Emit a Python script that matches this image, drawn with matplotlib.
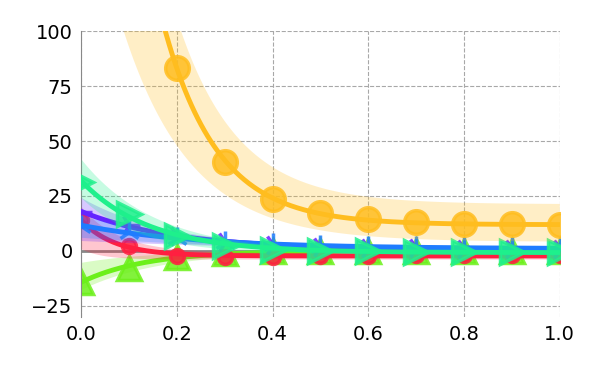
import numpy as np
import matplotlib
matplotlib.use('Agg')
import matplotlib.pyplot as plt

# x positions of the measured points
x_pts = [0.0, 0.1, 0.2, 0.3, 0.4, 0.5, 0.6, 0.7, 0.8, 0.9, 1.0]

# series values (mean, upper, lower)
orange_mid = [430, 185, 83, 40.5, 23.5, 17.2, 14.5, 13.2, 12.3, 12.1, 12.0]
orange_hi = [445, 211, 106, 58, 38, 29, 25, 23, 22, 21.5, 21.5]
orange_lo = [184, 93, 48, 26, 15, 9.4, 6.7, 5.3, 4.7, 4.3, 4.2]

red_mid = [14, 2.3, -2.3, -2.8, -2.6, -2.4, -2.2, -2.0, -1.9, -1.8, -1.7]
red_hi = [20, 6, 0, -1, -1, -1, -0.8, -0.6, -0.5, -0.4, -0.3]
red_lo = [1, -3, -4.5, -4.5, -4, -3.8, -3.6, -3.4, -3.3, -3.2, -3.1]

blue_mid = [11.5, 8.5, 6, 4, 3, 2.3, 1.9, 1.6, 1.5, 1.4, 1.3]
blue_hi = [16, 11.5, 8, 5.5, 4, 3, 2.5, 2.2, 2, 1.9, 1.8]
blue_lo = [6, 5, 4, 2.8, 2, 1.6, 1.3, 1.1, 1, 0.9, 0.8]

violet_mid = [17.7, 11.8, 7, 4, 2.5, 1.8, 1.4, 1.2, 1.1, 1.0, 1.0]
violet_hi = [24, 15.5, 9, 5.5, 3.5, 2.5, 2, 1.8, 1.6, 1.5, 1.5]
violet_lo = [4, 4.5, 4, 2.5, 1.5, 1, 0.8, 0.6, 0.5, 0.5, 0.5]

lime_mid = [-14, -7.7, -2.8, -0.8, -0.2, 0, 0, 0, 0, -0.1, -0.2]
lime_hi = [-5, -3, -1, 0, 0.3, 0.4, 0.4, 0.4, 0.4, 0.3, 0.2]
lime_lo = [-17, -11, -5, -2, -1, -0.6, -0.5, -0.5, -0.5, -0.6, -0.6]

spring_mid = [31.5, 17, 7, 2.3, 0.5, 0, -0.2, -0.3, -0.3, -0.3, -0.3]
spring_hi = [41, 24, 11, 4, 1.5, 0.8, 0.5, 0.3, 0.3, 0.3, 0.3]
spring_lo = [24, 11, 3, 0.5, -0.6, -1, -1, -1, -1, -1, -1]


def fit_exp(x, y):
    """least squares fit of c + a*exp(-b*x), b found by grid search"""
    x = np.asarray(x, float)
    y = np.asarray(y, float)
    best = None
    for b in np.linspace(0.2, 25, 500):
        M = np.column_stack([np.exp(-b * x), np.ones_like(x)])
        coef, res, _, _ = np.linalg.lstsq(M, y, rcond=None)
        err = np.sum((M @ coef - y) ** 2)
        if best is None or err < best[0]:
            best = (err, b, coef)
    _, b, (a, c) = best
    return lambda t: c + a * np.exp(-b * t)


series = [
    # mid, hi, lo, color, marker, size
    (lime_mid, lime_hi, lime_lo, '#6cf01a', '^', 17),
    (red_mid, red_hi, red_lo, '#ff1f40', 'o', 10),
    (violet_mid, violet_hi, violet_lo, '#6424ff', '4', 16),
    (blue_mid, blue_hi, blue_lo, '#1f7cff', '2', 16),
    (spring_mid, spring_hi, spring_lo, '#1ef08c', '>', 17),
    (orange_mid, orange_hi, orange_lo, '#ffbd1f', 'o', 17),
]

fig = plt.figure(figsize=(6, 3.75), dpi=100)
ax = fig.add_axes([0.135, 0.155, 0.798, 0.762])

xs = np.linspace(0, 1, 300)
ax.axhline(0, color='#888888', lw=2, zorder=1)

for i, (mid, hi, lo, col, mk, ms) in enumerate(series):
    f_mid = fit_exp(x_pts, mid)
    f_hi = fit_exp(x_pts, hi)
    f_lo = fit_exp(x_pts, lo)
    z = 2 + i
    ax.fill_between(xs, f_lo(xs), f_hi(xs), color=col, alpha=0.25, lw=0, zorder=z)
    ax.plot(xs, f_mid(xs), color=col, lw=3.5, zorder=z + 0.1)
    ax.plot(x_pts, mid, ls='none', marker=mk, ms=ms, color=col, alpha=0.85,
            mew=2.5, zorder=z + 0.2)

ax.set_xlim(0, 1)
ax.set_ylim(-30, 100)
ax.set_yticks([-25, 0, 25, 50, 75, 100])
ax.set_xticks([0.0, 0.2, 0.4, 0.6, 0.8, 1.0])
ax.grid(True, ls='--', color='#a8a8a8', lw=0.8)
ax.set_axisbelow(True)
ax.tick_params(length=0, labelsize=14, pad=6)
for s in ['top', 'right', 'bottom']:
    ax.spines[s].set_visible(False)
ax.spines['left'].set_color('#888888')

fig.savefig('out.png', dpi=100)
